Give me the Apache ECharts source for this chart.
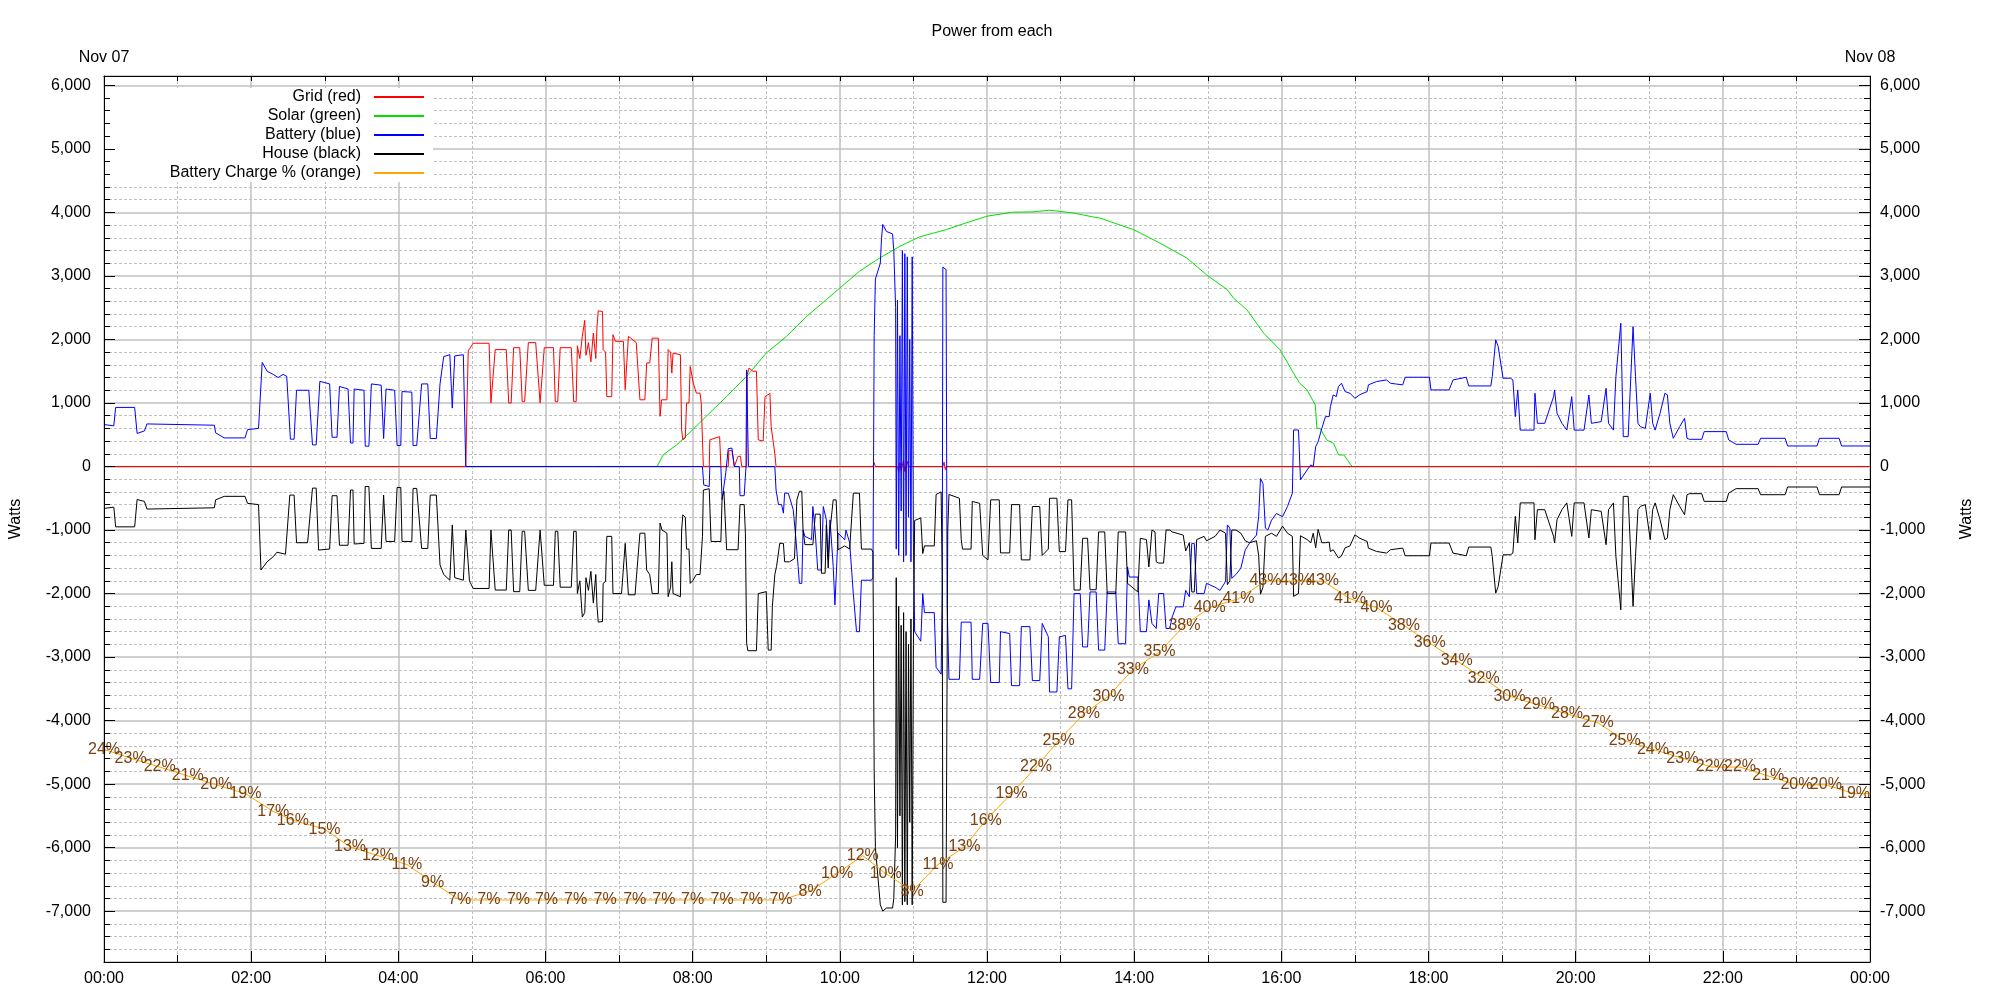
<!DOCTYPE html>
<html><head><meta charset="utf-8">
<script src="https://cdn.jsdelivr.net/npm/echarts@6/dist/echarts.min.js"></script>
<style>html,body{margin:0;padding:0;background:#fff}#c{width:2000px;height:1000px}</style>
</head><body><div id="c"></div>
<script>
// x values are minutes since Nov 07 00:00
const gridPts = [[0,0],[120,0],[240,0],[295,0],[296,1000],[297,1820],[301,1940],[314,1940],[315.5,1000],[317,1000],[319,1840],[328,1840],[330,1000],[332,1000],[334,1870],[339,1870],[341,1020],[343,1020],[346,1950],[352,1950],[355.6,1000],[357,1000],[359,1870],[366.5,1870],[368,1020],[370,1020],[372,1870],[381,1870],[383,1020],[385,1020],[386,1900],[388,1700],[390,2050],[392,2300],[393,1750],[395,1950],[397,1650],[399,2100],[401,1700],[402,2200],[403,2450],[406.5,2440],[407,1840],[409,1800],[410,1100],[414,1100],[415,2075],[417,1970],[423.5,1970],[425,1210],[426.5,1210],[427.6,2050],[434,1950],[437,1050],[441,1050],[442.5,1630],[445,1630],[447,2020],[452,2020],[453.4,790],[454.7,1050],[459,1050],[460,1840],[462,1800],[463,1470],[464,1785],[470,1760],[471,578],[472,420],[474,450],[475,1000],[477,1000],[478,1575],[480.5,1313],[483,1155],[486,1155],[487,998],[488.7,0],[493.5,0],[494,420],[502,470],[503,0],[509,0],[509.5,250],[512,250],[514,0],[517,160],[519,160],[520,0],[524,0],[524.5,1450],[526,1550],[529,1500],[532,1500],[533.5,420],[537.5,400],[539,1100],[543,1150],[544,630],[545,650],[547,200],[548,0],[600,0],[627,0],[628,60],[629,0],[647,0],[648,-90],[649,60],[650,-60],[652,100],[653,-80],[655,80],[656,0],[684,0],[685,70],[686,-50],[687,0],[1440,0]];

const solarPts = [[0,0],[451,0],[456,184],[467,341],[480,578],[491,788],[507.7,1103],[524,1418],[540,1786],[556.6,2049],[573,2364],[589,2627],[600,2810],[616,3073],[632.6,3283],[649,3467],[665,3614],[687,3730],[703,3835],[720,3940],[741,4003],[757.5,4008],[771,4034],[790,3992],[806,3930],[812,3911],[839.6,3727],[861,3517],[883,3281],[899,3018],[916,2781],[921,2650],[932,2466],[945.6,2098],[959,1836],[970,1468],[975,1311],[981,1205],[987.7,968],[989,601],[991.6,601],[997,418],[1002.6,365],[1006.7,181],[1011,181],[1017.7,0],[1440,0]];

const batteryPts = [[0,660],[8,640],[9.5,930],[25,930],[27,520],[33,560],[35,670],[90,650],[91,530],[98,450],[115,450],[117,580],[126,600],[129,1640],[133,1500],[138,1450],[142,1400],[146,1450],[149,1420],[152,430],[155,430],[157,1200],[167,1200],[170,340],[173,340],[176,1340],[184,1300],[186,460],[190,460],[192,1260],[199,1220],[201,370],[203,370],[204,1220],[212,1200],[213,320],[216,320],[218,1300],[226,1280],[228,440],[230,1220],[237,1200],[239,330],[242,330],[243,1180],[251,1170],[252,330],[255,330],[259,1300],[264,1300],[266,440],[271,440],[274,1300],[277,1730],[282,1760],[284,920],[286,1740],[293,1760],[295,0],[400,0],[488,0],[489,-290],[493.5,-315],[494,0],[503,0],[504,-520],[505.5,-500],[507,-100],[509,280],[512,290],[514,0],[518,0],[518.6,-460],[522,-460],[523.5,0],[524,1520],[525,1500],[525.5,0],[547,0],[548,-370],[550,-600],[552.5,-600],[554,-735],[555,-420],[558,-420],[562,-680],[564,-1100],[566,-1575],[567,-1840],[569,-1840],[570,-1000],[571.5,-1100],[577,-1150],[578,-630],[580,-1050],[582,-1630],[585,-1630],[586.5,-630],[589,-840],[590.5,-1470],[592,-840],[594.6,-1575],[596,-2180],[597,-2180],[598.6,-1050],[604,-1155],[605,-1000],[608,-1200],[611,-2000],[613.6,-2600],[616,-2600],[617.6,-1790],[625.8,-1790],[627,-1745],[628,2060],[629,2950],[633,3200],[634,3590],[635,3810],[638,3700],[643,3660],[644,3400],[645.5,2500],[646,-1300],[647,2620],[648,-1400],[649,2060],[650,-700],[651,3400],[652,-1500],[653,3350],[654,-1400],[655,3300],[656,-800],[657,2000],[658,-1500],[659,3300],[660,-1200],[661,-2600],[666,-2750],[667.6,-2000],[669,-2300],[677,-2300],[678.5,-3160],[682.6,-3270],[683.5,-2000],[684,3140],[686.6,3100],[687.5,-2190],[689,-3350],[697.5,-3350],[699,-2450],[707,-2450],[708,-3350],[714,-3350],[716.5,-2470],[720.8,-2470],[723,-3400],[730,-3400],[731,-2600],[738.5,-2630],[740,-3450],[746.6,-3450],[748,-2520],[755,-2520],[757,-3370],[763,-3370],[765,-2470],[770,-2680],[771,-3550],[777,-3550],[779,-2680],[784,-2660],[786,-3500],[789,-3500],[791,-2000],[796,-2000],[798,-2840],[802,-2840],[804,-1975],[809,-1975],[811,-2890],[816,-2890],[818,-1975],[825,-1975],[827,-2790],[833,-2790],[834.6,-1580],[836,-1740],[843,-1740],[845,-2600],[850,-2600],[852,-2100],[854.5,-2470],[858,-2550],[860,-2000],[864,-2000],[866,-2550],[869,-2550],[871,-2370],[874,-2210],[880,-2210],[882,-1950],[885,-2050],[887,-1210],[889,-1210],[891,-2000],[897,-2000],[899,-1840],[906,-1900],[910,-1950],[914.5,-1810],[916,-920],[918,-970],[919.6,-1760],[923,-1700],[927,-1600],[930.6,-1310],[934,-1210],[939.7,-1080],[941.5,-790],[943,-190],[945,-270],[947,-970],[949,-1000],[952,-845],[956,-740],[961,-790],[965,-630],[969,-420],[970,575],[974,575],[975.6,-210],[981,-55],[984,25],[986,0],[988,313],[990,390],[993,600],[996,785],[999,785],[1000,940],[1002.3,1127],[1004.8,1100],[1006.6,1260],[1009,1310],[1012,1180],[1016,1152],[1020,1075],[1024,1130],[1030,1180],[1031,1285],[1037.6,1337],[1045.8,1363],[1049,1310],[1059,1285],[1061,1405],[1080.8,1405],[1082,1205],[1096.8,1205],[1100,1363],[1110.8,1405],[1112.8,1268],[1130.8,1268],[1132,1415],[1134.8,1994],[1136.8,1890],[1140.8,1390],[1146.8,1390],[1148.8,1363],[1150.8,785],[1152.8,1205],[1154.8,573],[1166,573],[1166.8,1153],[1168.8,680],[1174.8,680],[1182,1100],[1182.8,1205],[1184.8,838],[1188.8,680],[1192.8,573],[1196.8,1100],[1198.8,573],[1206.8,573],[1210.8,1126],[1212.8,680],[1220.8,706],[1224.8,1231],[1226.8,680],[1230.8,573],[1232.8,1415],[1236.8,2256],[1238.8,470],[1242.8,470],[1246.8,2203],[1248.8,1415],[1250.8,680],[1252.8,627],[1256.8,600],[1260.8,1153],[1262.8,680],[1264.8,573],[1268.8,838],[1272.8,1153],[1274.8,1126],[1276.8,680],[1279.6,444],[1284.8,627],[1288.8,759],[1290.8,444],[1292.8,428],[1302.8,428],[1304.8,549],[1322.8,549],[1324.8,418],[1330.8,349],[1348.8,349],[1350.8,444],[1370.8,444],[1372.8,323],[1396.8,323],[1398.8,444],[1414.8,444],[1416.8,323],[1440,323]];

const housePts = [[0,-660],[8,-640],[9.5,-950],[25,-950],[27,-520],[33,-550],[35,-670],[90,-650],[91,-525],[98,-470],[115,-470],[117,-580],[126,-600],[128,-1630],[133,-1500],[138,-1420],[141,-1350],[148,-1380],[151.5,-450],[155,-450],[157,-1200],[166,-1200],[170,-340],[173,-340],[175,-1315],[184,-1300],[186,-460],[190,-460],[192,-1240],[199,-1240],[201,-370],[203,-370],[204,-1220],[212,-1210],[213,-315],[216,-315],[218,-1290],[226,-1290],[228,-450],[230,-1180],[237,-1180],[239,-330],[242,-330],[243,-1180],[251,-1180],[252,-345],[255,-345],[259,-1290],[264,-1290],[266,-450],[271,-450],[274,-1550],[277,-1700],[282,-1790],[284,-920],[286,-1750],[293,-1790],[295,-1000],[296,-1000],[298,-1800],[301,-1920],[314,-1920],[315.5,-1000],[317,-1000],[319,-1945],[328,-1945],[330,-1000],[332,-1000],[334,-1970],[339,-1970],[341,-1020],[343,-1020],[346,-1950],[352,-1950],[355.6,-1000],[357,-1000],[359,-1870],[366.5,-1870],[368,-1020],[370,-1020],[372,-1900],[381,-1900],[383,-1020],[385,-1020],[386,-2000],[388,-1800],[390,-2370],[392,-2300],[393,-1750],[395,-1950],[397,-1650],[399,-2150],[401,-1700],[402,-2200],[403,-2450],[406.5,-2440],[407,-1840],[409,-1810],[410,-1100],[414,-1100],[415,-2000],[422,-2000],[425,-1210],[426.5,-1210],[427.6,-2020],[433,-2020],[437,-1050],[441,-1050],[442.5,-1630],[445,-1700],[447,-2000],[452,-2000],[453.4,-890],[455,-1000],[459,-1050],[460,-2050],[462,-1900],[463,-1500],[464,-2000],[470,-2050],[471,-1000],[472,-760],[474,-800],[475,-1300],[477,-1300],[478,-1840],[480,-1800],[483,-1700],[486,-1700],[488,-1100],[488.7,-370],[493.5,-350],[495,-1180],[503,-1180],[504,-500],[505.5,-390],[507.7,-1310],[517,-1310],[518.6,-600],[522,-600],[523,-1050],[524,-2780],[525,-2900],[532,-2900],[533.5,-2000],[540,-1970],[541.6,-2890],[544,-2890],[545,-2200],[547,-1700],[548.4,-1575],[551,-1210],[554,-1210],[555,-1500],[559,-1500],[563,-1450],[565,-525],[567,-390],[569,-390],[570,-1000],[571.5,-1230],[578,-1230],[580,-750],[584,-750],[585,-1680],[588,-1680],[589,-920],[590.5,-1600],[592,-1000],[594.6,-525],[597,-525],[598.6,-1310],[604,-1250],[608,-1300],[611,-420],[616,-420],[617.6,-1300],[625.8,-1300],[627,-1350],[628,-4800],[629,-6000],[633,-6900],[635,-7000],[638,-6950],[643,-6950],[644,-6800],[645.5,-5800],[646,-1750],[647,-6000],[648,-2200],[649,-5500],[650,-2500],[651,-6900],[652,-2300],[653,-6850],[654,-2600],[655,-6900],[656,-2800],[657,-5600],[658,-2400],[659,-6900],[660,-2800],[661,-850],[666,-810],[667.6,-1370],[669,-1250],[677,-1250],[678.5,-440],[682.6,-400],[683.5,-1700],[684,-6860],[686.6,-6860],[688,-1000],[689,-440],[697.5,-500],[699,-1150],[700,-1300],[707,-1300],[708,-550],[714,-580],[716.5,-1400],[720.8,-1470],[723,-525],[730,-525],[731,-1360],[738.5,-1360],[740,-600],[746.6,-600],[748,-1470],[755,-1470],[757,-630],[763,-630],[765,-1400],[770,-1300],[771,-500],[777,-500],[779,-1340],[784,-1340],[786,-525],[789,-525],[791,-1945],[796,-1945],[798,-1130],[802,-1130],[804,-1940],[809,-1940],[811,-1030],[816,-1030],[818,-2000],[825,-2000],[827,-1030],[833,-1030],[834.6,-1840],[843,-1975],[845,-1130],[850,-1150],[852,-1580],[854.5,-1000],[857,-1030],[858,-1500],[860,-1520],[864,-1520],[866,-1000],[869,-1000],[871,-1030],[880,-1080],[882,-1330],[885,-1200],[887,-1975],[889,-1975],[891,-1150],[897,-1100],[899,-1170],[906,-1100],[910,-1000],[914.5,-1050],[916,-1860],[918,-1800],[919.6,-1000],[923,-1000],[927,-1050],[930.6,-1170],[934,-1200],[939.7,-1170],[941.5,-1400],[943,-2010],[945,-1900],[947,-1100],[952,-1050],[956,-1100],[961,-940],[965,-1050],[969,-1100],[970,-2045],[974,-2000],[975.6,-1090],[981,-1150],[984,-1200],[986,-1050],[988,-1280],[990,-990],[993,-1200],[996,-1200],[999,-1190],[1000,-1340],[1002.3,-1310],[1006.6,-1440],[1009,-1410],[1012,-1280],[1016,-1250],[1020,-1075],[1024,-1130],[1030,-1180],[1031,-1285],[1037.6,-1337],[1045.8,-1363],[1049,-1310],[1059,-1285],[1061,-1405],[1080.8,-1405],[1082,-1205],[1096.8,-1205],[1100,-1363],[1110.8,-1405],[1112.8,-1268],[1130.8,-1268],[1132,-1415],[1134.8,-1994],[1136.8,-1890],[1140.8,-1390],[1146.8,-1390],[1148.8,-1363],[1150.8,-785],[1152.8,-1205],[1154.8,-573],[1166,-573],[1166.8,-1153],[1168.8,-680],[1174.8,-680],[1182,-1100],[1182.8,-1205],[1184.8,-838],[1188.8,-680],[1192.8,-573],[1196.8,-1100],[1198.8,-573],[1206.8,-573],[1210.8,-1126],[1212.8,-680],[1220.8,-706],[1224.8,-1231],[1226.8,-680],[1230.8,-573],[1232.8,-1415],[1236.8,-2256],[1238.8,-470],[1242.8,-470],[1246.8,-2203],[1248.8,-1415],[1250.8,-680],[1252.8,-627],[1256.8,-600],[1260.8,-1153],[1262.8,-680],[1264.8,-573],[1268.8,-838],[1272.8,-1153],[1274.8,-1126],[1276.8,-680],[1279.6,-444],[1284.8,-627],[1288.8,-759],[1290.8,-444],[1292.8,-428],[1302.8,-428],[1304.8,-549],[1322.8,-549],[1324.8,-418],[1330.8,-349],[1348.8,-349],[1350.8,-444],[1370.8,-444],[1372.8,-323],[1396.8,-323],[1398.8,-444],[1414.8,-444],[1416.8,-323],[1440,-323]];

const chargeMin = [0,21.7,45.4,68.3,91.6,115.3,138,154,179.8,200.6,223.4,247,268,290,313.8,338,360.8,384.5,408.6,432.8,456.5,480,504,528,552,575.8,597.8,618.7,637.4,659,680,701.6,719,740,760,778.4,799,819,839,860.7,881,901.6,925,947,972,994,1016,1037.6,1060,1081,1103,1125,1146,1170,1193,1218,1240,1263,1287,1311,1334,1357,1380,1404,1427,1440];
const chargePct = [24,23,22,21,20,19,17,16,15,13,12,11,9,7,7,7,7,7,7,7,7,7,7,7,7,8,10,12,10,8,11,13,16,19,22,25,28,30,33,35,38,40,41,43,43,43,41,40,38,36,34,32,30,29,28,27,25,24,23,22,22,21,20,20,19,19];

const seriesNames = ['Grid (red)','Solar (green)','Battery (blue)','House (black)','Battery Charge % (orange)'];
const dateLabels = ['Nov 07','Nov 08'];

const FONT = '"Liberation Sans", Arial, sans-serif';
const GRAY = '#c0c0c0';
const LBL = '#7a4010';

function hhmm(v){ const h = Math.round(v/60)%24; return (h<10?'0':'')+h+':00'; }
function thousands(v){ const s = Math.abs(v).toString().replace(/\B(?=(\d{3})+(?!\d))/g, ','); return (v<0?'-':'')+s; }

const chargeData = chargeMin.map((m,i)=>({value:[m,chargePct[i]], label:{show:i<chargeMin.length-1}}));

function yAx(pos, extra){
  return Object.assign({
    type:'value', position:pos, min:-7800, max:6147, splitNumber:14, minInterval:1000, maxInterval:1000,
    axisLine:{show:true,onZero:false,lineStyle:{color:'#000',width:1}},
    axisTick:{show:true,inside:true,length:11,lineStyle:{color:'#000',width:1}},
    minorTick:{show:true,splitNumber:5,length:6,lineStyle:{color:'#000',width:1}},
    axisLabel:{formatter:thousands,color:'#000',fontSize:16,fontFamily:FONT,showMinLabel:false,showMaxLabel:false},
    name:'Watts', nameLocation:'middle', nameRotate:90,
    nameTextStyle:{fontSize:16,color:'#000',fontFamily:FONT}
  }, extra);
}

const chart = echarts.init(document.getElementById('c'), null, {renderer:'canvas'});
chart.setOption({
  backgroundColor:'#fff',
  animation:false,
  textStyle:{fontFamily:FONT},
  title:{text:'Power from each', left:987, top:19, textAlign:'center',
    textStyle:{fontSize:16,fontWeight:'normal',color:'#000',fontFamily:FONT}},
  legend:{
    data:seriesNames, orient:'vertical', align:'right', right:1567, top:88,
    padding:[0,9,0,66], itemGap:1, itemWidth:50, itemHeight:2, icon:'rect',
    backgroundColor:'#fff', selectedMode:false,
    textStyle:{fontSize:16,color:'#000',fontFamily:FONT,lineHeight:18,padding:[0,8,0,0]}
  },
  grid:{left:104,right:130,top:76,bottom:38,containLabel:false},
  xAxis:[
    {type:'value',position:'bottom',min:0,max:1440,interval:120,
     axisLine:{show:true,onZero:false,lineStyle:{color:'#000',width:1}},
     axisTick:{show:true,inside:true,length:11,lineStyle:{color:'#000'}},
     minorTick:{show:true,splitNumber:2,length:7,lineStyle:{color:'#000'}},
     axisLabel:{formatter:hhmm,color:'#000',fontSize:16,margin:9,fontFamily:FONT},
     splitLine:{show:true,lineStyle:{color:GRAY,width:1.5}},
     minorSplitLine:{show:true,lineStyle:{color:GRAY,width:1,type:[3,2]}}},
    {type:'value',position:'top',min:0,max:1440,interval:60,
     axisLine:{show:true,onZero:false,lineStyle:{color:'#000',width:1}},
     axisTick:{show:true,inside:true,length:5,lineStyle:{color:'#000'}},
     axisLabel:{formatter:v=>v===0?dateLabels[0]:(v===1440?dateLabels[1]:''),color:'#000',fontSize:16,margin:10,fontFamily:FONT},
     splitLine:{show:false}}
  ],
  yAxis:[
    yAx('left',{z:5, nameGap:80, axisLabel:{formatter:thousands,color:'#000',fontSize:16,fontFamily:FONT,margin:13,showMinLabel:false,showMaxLabel:false}, splitLine:{show:false}, minorSplitLine:{show:false}}),
    yAx('right',{nameGap:89, axisLabel:{formatter:thousands,color:'#000',fontSize:16,fontFamily:FONT,margin:10,showMinLabel:false,showMaxLabel:false},
      splitLine:{show:true,lineStyle:{color:GRAY,width:1.5}},
      minorSplitLine:{show:true,lineStyle:{color:GRAY,width:1,type:[3,2]}}}),
    {type:'value',min:0,max:100,show:false}
  ],
  series:[
    {name:seriesNames[1],type:'line',xAxisIndex:0,yAxisIndex:0,data:solarPts,symbol:'none',lineStyle:{color:'#00e000',width:1},itemStyle:{color:'#00e000'}},
    {name:seriesNames[0],type:'line',xAxisIndex:0,yAxisIndex:0,data:gridPts,symbol:'none',lineStyle:{color:'#ff0000',width:1},itemStyle:{color:'#ff0000'}},
    {name:seriesNames[2],type:'line',xAxisIndex:0,yAxisIndex:0,data:batteryPts,symbol:'none',lineStyle:{color:'#0000ff',width:1},itemStyle:{color:'#0000ff'}},
    {name:seriesNames[3],type:'line',xAxisIndex:0,yAxisIndex:0,data:housePts,symbol:'none',lineStyle:{color:'#000000',width:1},itemStyle:{color:'#000000'}},
    {name:seriesNames[4],type:'line',xAxisIndex:0,yAxisIndex:2,data:chargeData,symbol:'circle',symbolSize:1,showSymbol:true,
     lineStyle:{color:'#ffa500',width:1},itemStyle:{color:'#ffa500'},
     label:{show:true,position:'inside',formatter:p=>p.value[1]+'%',color:LBL,fontSize:16,fontFamily:FONT}}
  ]
});
</script>
</body></html>
